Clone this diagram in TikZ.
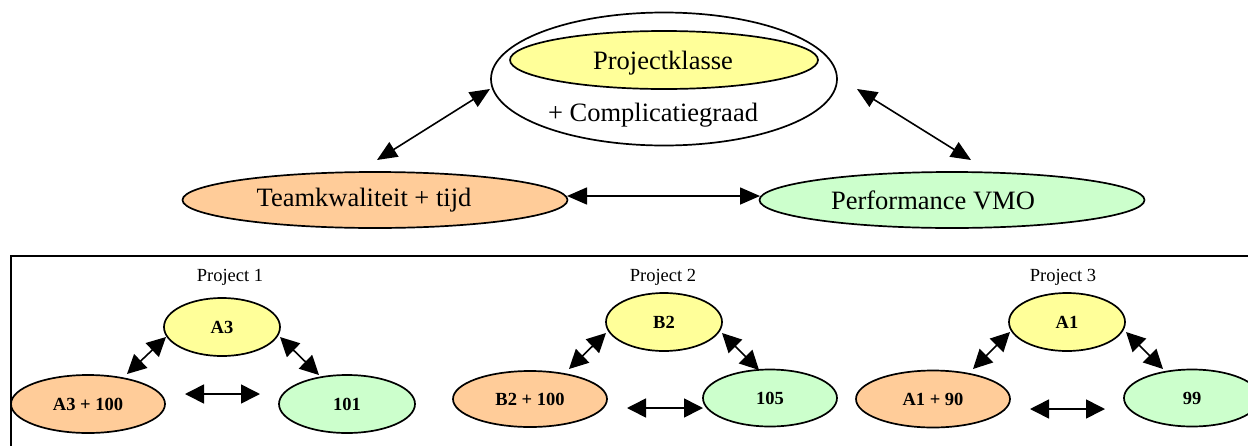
\documentclass[tikz,border=0pt]{standalone}
\usepackage{fontspec}
\setmainfont{Liberation Serif}
\usetikzlibrary{shapes.geometric,arrows.meta}
\definecolor{pyellow}{HTML}{FFFF99}
\definecolor{porange}{HTML}{FFCC99}
\definecolor{pgreen}{HTML}{CCFFCC}
\begin{document}
\begin{tikzpicture}[x=1pt,y=-1pt,
  oval/.style={ellipse, draw, line width=1.7pt, inner sep=0pt},
  bigtext/.style={font=\fontsize{26.5}{30}\selectfont},
  smalltext/.style={font=\fontsize{18.5}{21}\selectfont},
  boldtext/.style={font=\fontsize{18.5}{21}\selectfont\bfseries},
  link/.style={line width=1.6pt, {Triangle[length=20pt,width=17pt]}-{Triangle[length=20pt,width=17pt]}},
  sublink/.style={line width=1.6pt, {Triangle[length=19pt,width=19pt]}-{Triangle[length=19pt,width=19pt]}}]
\clip (0,0) rectangle (1248,445);
\useasboundingbox (0,0) rectangle (1248,445);

% --- main model ---
\node[oval, minimum width=346pt, minimum height=133pt] (cls) at (664,79) {};
\node[oval, fill=pyellow, minimum width=308pt, minimum height=58pt] (klasse) at (664,60) {};
\node[bigtext] (klassetxt) at (663,63) {Projectklasse};
\node[bigtext] (compl) at (653,115) {+ Complicatiegraad};
\node[oval, fill=porange, minimum width=385pt, minimum height=56pt] (team) at (375,200) {};
\node[bigtext] (teamtxt) at (364,200) {Teamkwaliteit + tijd};
\node[oval, fill=pgreen, minimum width=385pt, minimum height=56pt] (perf) at (952,200) {};
\node[bigtext] (perftxt) at (933,200) {Performance VMO};

\coordinate (tl1) at (377,160); \coordinate (tl2) at (490,89);
\coordinate (tr1) at (857,89);  \coordinate (tr2) at (971,160);
\coordinate (th1) at (567,196); \coordinate (th2) at (760,196);
\draw[link] (tl1) -- (tl2);
\draw[link] (tr1) -- (tr2);
\draw[link] (th1) -- (th2);

% --- frame with the three projects ---
\draw[line width=1.6pt] (11,470) -- (11,256) -- (1270,256);

% Project 1
\node[smalltext] (p1) at (230,277) {Project 1};
\node[oval, boldtext, fill=pyellow, minimum width=116pt, minimum height=58pt] (a3) at (222,327) {A3};
\node[oval, boldtext, fill=porange, minimum width=154pt, minimum height=58pt] (a3t) at (88,404) {A3 + 100};
\node[oval, boldtext, fill=pgreen, minimum width=136pt, minimum height=58pt] (v1) at (347,404) {101};
\coordinate (p1a) at (127,374); \coordinate (p1b) at (166,337);
\coordinate (p1c) at (280,337); \coordinate (p1d) at (319,375);
\coordinate (p1e) at (185,394); \coordinate (p1f) at (260,394);
\draw[sublink] (p1a) -- (p1b);
\draw[sublink] (p1c) -- (p1d);
\draw[sublink] (p1e) -- (p1f);

% Project 2
\node[smalltext] (p2) at (663,277) {Project 2};
\node[oval, boldtext, fill=pyellow, minimum width=116pt, minimum height=58pt] (b2) at (664,322) {B2};
\node[oval, boldtext, fill=porange, minimum width=154pt, minimum height=56pt] (b2t) at (530,399) {B2 + 100};
\node[oval, boldtext, fill=pgreen, minimum width=134pt, minimum height=57pt] (v2) at (770,398) {105};
\coordinate (p2a) at (569,369); \coordinate (p2b) at (606,333);
\coordinate (p2c) at (722,333); \coordinate (p2d) at (759,370);
\coordinate (p2e) at (627,408); \coordinate (p2f) at (703,408);
\draw[sublink] (p2a) -- (p2b);
\draw[sublink] (p2c) -- (p2d);
\draw[sublink] (p2e) -- (p2f);

% Project 3
\node[smalltext] (p3) at (1063,277) {Project 3};
\node[oval, boldtext, fill=pyellow, minimum width=116pt, minimum height=58pt] (a1) at (1067,322) {A1};
\node[oval, boldtext, fill=porange, minimum width=154pt, minimum height=57pt] (a1t) at (933,399) {A1 + 90};
\node[oval, boldtext, fill=pgreen, minimum width=136pt, minimum height=57pt] (v3) at (1192,398) {99};
\coordinate (p3a) at (973,369);  \coordinate (p3b) at (1010,332);
\coordinate (p3c) at (1126,332); \coordinate (p3d) at (1163,369);
\coordinate (p3e) at (1030,409); \coordinate (p3f) at (1105,409);
\draw[sublink] (p3a) -- (p3b);
\draw[sublink] (p3c) -- (p3d);
\draw[sublink] (p3e) -- (p3f);
\end{tikzpicture}
\end{document}
